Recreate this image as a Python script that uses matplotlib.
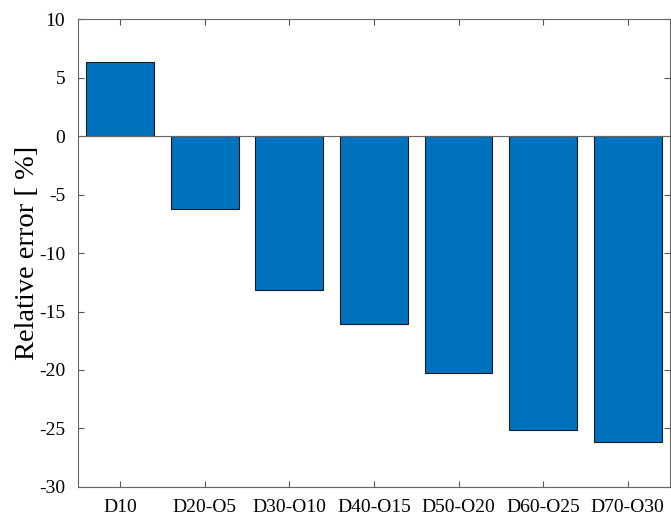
import numpy as np
import matplotlib.pyplot as plt

# Relative error per case
cases = ['D10', 'D20-O5', 'D30-O10', 'D40-O15', 'D50-O20', 'D60-O25', 'D70-O30']
rel_err = [6.3, -6.2, -13.2, -16.1, -20.3, -25.1, -26.2]

plt.rcParams['font.family'] = ['Liberation Serif', 'DejaVu Serif']
plt.rcParams['axes.unicode_minus'] = False

fig = plt.figure(figsize=(6.71, 5.18), dpi=100)
ax = fig.add_axes([0.116, 0.06, 0.8825, 0.903])

x = np.arange(1, len(cases) + 1)
ax.bar(x, rel_err, width=0.8, color='#0072BD', edgecolor='#1a1a1a', linewidth=0.8)
ax.axhline(0, color='#666666', linewidth=0.8)

ax.set_xlim(0.5, 7.5)
ax.set_ylim(-30, 10)
ax.set_xticks(x)
ax.set_xticklabels(cases)
ax.set_yticks(np.arange(-30, 11, 5))
ax.tick_params(direction='in', top=True, right=True, labelsize=14,
               color='#555555', length=4)
ax.tick_params(axis='x', pad=9)
ax.tick_params(axis='y', pad=9)
for s in ax.spines.values():
    s.set_color('#666666')
    s.set_linewidth(0.8)

ax.set_ylabel('Relative error [ %]', fontsize=20.5, labelpad=-1)

fig.savefig('out.png', dpi=100)
